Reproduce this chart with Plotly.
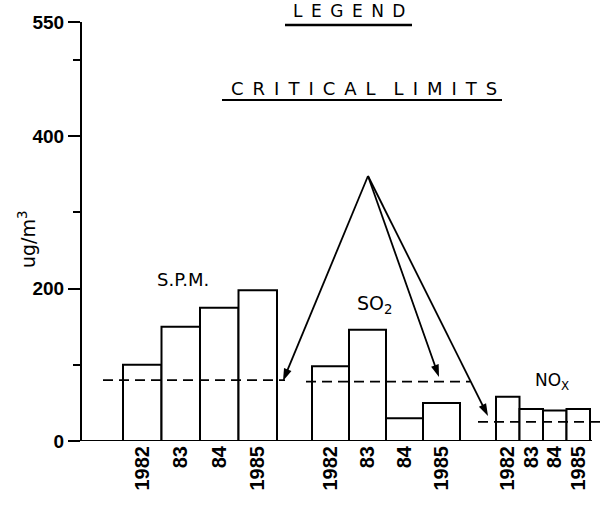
import plotly.graph_objects as go

# Pollutant concentrations (ug/m3) by year
groups = ["S.P.M.", "SO<sub>2</sub>", "NO<sub>X</sub>"]
years = ["1982", "83", "84", "1985"]
spm = [100, 150, 175, 198]
so2 = [98, 146, 30, 50]
nox = [58, 42, 40, 42]
critical = [80, 78, 25]

series = [spm, so2, nox]

# Layout geometry (x axis in pixel-like units starting at the y axis)
group_start = [41, 230, 414]
bar_width = [38.5, 37, 23.5]
limit_span = [(21, 203), (224, 388), (396, 524)]

PX0, PY0, PLOT_H = 82, 441, 419
SCALE = PLOT_H / 550


def dx(px):
    return px - PX0


def dy(py):
    return (PY0 - py) / SCALE


def py_paper(py):
    return (PY0 - py) / PLOT_H


def px_paper(px):
    return (px - PX0) / 524


def spaced(word):
    return "\u2002".join(word)


FONT = "Liberation Sans Narrow, Liberation Sans, Arial, sans-serif"

fig = go.Figure()

tickvals, ticktext = [], []
for g, vals in enumerate(series):
    xs = [group_start[g] + (i + 0.5) * bar_width[g] for i in range(len(vals))]
    fig.add_trace(go.Bar(
        x=xs, y=vals, width=[bar_width[g]] * len(vals),
        marker=dict(color="white", line=dict(color="black", width=2)),
        showlegend=False, hoverinfo="y",
    ))
    tickvals += xs
    ticktext += years

# arrows from the CRITICAL LIMITS label to each limit line
apex = (dx(368), dy(176))
for hx, hy in [(283, 381), (439, 377), (488, 416)]:
    fig.add_trace(go.Scatter(
        x=[apex[0], dx(hx)], y=[apex[1], dy(hy)], mode="lines+markers",
        line=dict(color="black", width=1.8),
        marker=dict(symbol=["circle", "arrow"], size=[0, 13], angleref="previous",
                    color="black", opacity=1, line=dict(width=0)),
        showlegend=False, hoverinfo="skip", cliponaxis=False,
    ))

shapes = []
# critical limit lines
for (x0, x1), lim in zip(limit_span, critical):
    shapes.append(dict(type="line", xref="x", yref="y", x0=x0, x1=x1, y0=lim, y1=lim,
                       line=dict(color="black", width=1.8, dash="10px,6px")))
# baseline
shapes.append(dict(type="line", xref="x", yref="y", x0=0, x1=dx(592), y0=0, y1=0,
                   line=dict(color="black", width=2)))
# underlines
shapes.append(dict(type="line", xref="x", yref="y", x0=dx(285), x1=dx(412), y0=dy(25), y1=dy(25),
                   line=dict(color="black", width=2.5)))
shapes.append(dict(type="line", xref="x", yref="y", x0=dx(222), x1=dx(502), y0=dy(100), y1=dy(100),
                   line=dict(color="black", width=2)))

annotations = []
texts = [
    (spaced("LEGEND"), 349, 11, 17),
    (spaced("CRITICAL") + "\u2002\u2002" + spaced("LIMITS"), 364, 88, 18),
    (groups[0], 183, 279, 18),
    (groups[1], 374, 304, 19),
    (groups[2], 552, 381, 17),
]
for t, px, py, sz in texts:
    annotations.append(dict(x=px_paper(px), y=py_paper(py), xref="paper", yref="paper",
                            xanchor="center", yanchor="middle", text=t, showarrow=False,
                            font=dict(family="DejaVu Sans", size=sz, color="black")))
annotations.append(dict(x=px_paper(27), y=py_paper(240), xref="paper", yref="paper",
                        xanchor="center", yanchor="middle",
                        text="ug/m<sup>3</sup>", textangle=-90, showarrow=False,
                        font=dict(family="DejaVu Sans", size=19, color="black")))

fig.update_layout(
    width=606, height=514,
    margin=dict(l=82, r=0, t=22, b=73),
    paper_bgcolor="white", plot_bgcolor="white",
    barmode="overlay",
    shapes=shapes, annotations=annotations,
    xaxis=dict(range=[0, 524], showline=False, showgrid=False, zeroline=False,
               tickmode="array", tickvals=tickvals, ticktext=ticktext, tickangle=-90,
               ticks="", tickfont=dict(family=FONT, size=20, color="black", weight="bold")),
    yaxis=dict(range=[0, 550], showline=True, linecolor="black", linewidth=2,
               showgrid=False, zeroline=False,
               tickmode="array", tickvals=[0, 200, 400, 550], ticktext=["0", "200", "400", "550"],
               ticks="outside", ticklen=12, tickwidth=2, tickcolor="black",
               minor=dict(tickmode="array", tickvals=[100, 300, 500], ticks="outside",
                          ticklen=7, tickwidth=2, tickcolor="black"),
               tickfont=dict(family=FONT, size=19, color="black", weight="bold")),
)

fig.write_html("out.html")
